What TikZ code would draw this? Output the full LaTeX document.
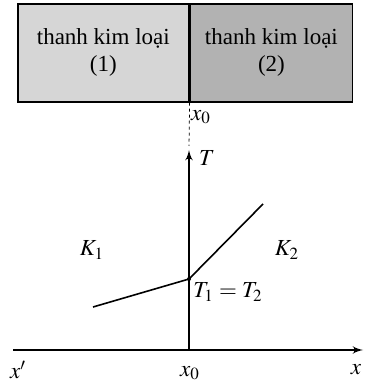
\documentclass[tikz,border=0pt]{standalone}
\usepackage{mathptmx}
\usepackage{fontspec}
\setmainfont{Liberation Serif}
\usetikzlibrary{arrows, positioning}

\begin{document}
\begin{tikzpicture}[x=0.5pt, y=-0.5pt, node distance=0pt, font=\fontsize{11.5}{13.5}\selectfont]
      \tikzstyle{bar} = [rectangle, draw, thick, minimum height=49pt, align=center, inner sep=0pt]
      \tikzstyle{axis} = [draw, -latex', thick]
      \tikzstyle{line} = [draw, thick]
      \tikzstyle{lbl} = [inner sep=1pt]
      \useasboundingbox (0,0) rectangle (369,383);

      \node [bar, fill=black!16, minimum width=85.5pt, anchor=north west] (bar1) at (17,3) {thanh kim loại\\(1)};
      \node [bar, fill=black!30, minimum width=81pt, right=of bar1] (bar2) {thanh kim loại\\(2)};

      \coordinate (o) at (189,350);
      \coordinate (xl) at (13,350);
      \coordinate (xr) at (363,350);
      \coordinate (ttop) at (189,146);
      \coordinate (tbot) at (189,150);
      \coordinate (p) at (189,279);
      \coordinate (a) at (93,307);
      \coordinate (b) at (263,204);

      \path [draw, dash pattern=on 1.5pt off 1.5pt] (bar1.south east) -- (ttop);
      \path [axis] (xl) -- (xr);
      \path [axis] (o) -- (tbot);
      \path [line] (a) -- (p) -- (b);
      \fill (p) circle (2);

      \node [lbl] (x0top) at (201,117) {$x_0$};
      \node [lbl] (T) at (207,158) {$T$};
      \node [lbl] (K1) at (92,250) {$K_1$};
      \node [lbl] (K2) at (287,250) {$K_2$};
      \node [lbl, anchor=west] (T12) at (191,292) {$T_1 = T_2$};
      \node [lbl] (xp) at (18,370) {$x'$};
      \node [lbl] (x0) at (190,373) {$x_0$};
      \node [lbl] (x) at (356,370) {$x$};
    \end{tikzpicture}
\end{document}
